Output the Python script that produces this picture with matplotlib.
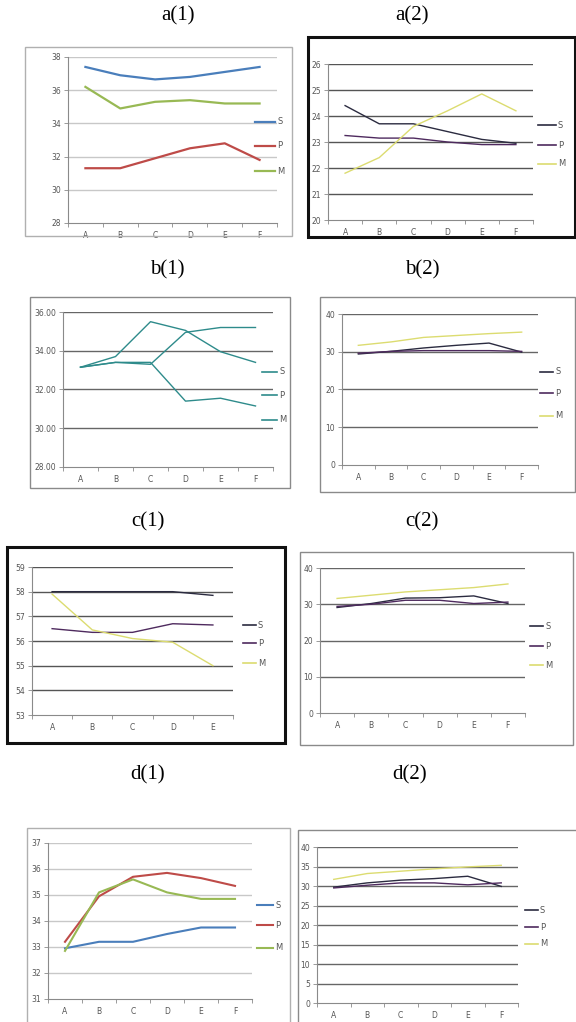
import matplotlib
matplotlib.use("Agg")
import matplotlib.pyplot as plt
from matplotlib.lines import Line2D
from matplotlib.patches import Rectangle
from matplotlib.ticker import FixedLocator, FormatStrFormatter

W, H = 576, 1022

# categories
cats6 = ['A', 'B', 'C', 'D', 'E', 'F']
cats5 = ['A', 'B', 'C', 'D', 'E']
series_names = ['S', 'P', 'M']

# values
a1_S = [37.4, 36.9, 36.65, 36.8, 37.1, 37.4]
a1_P = [31.3, 31.3, 31.9, 32.5, 32.8, 31.8]
a1_M = [36.2, 34.9, 35.3, 35.4, 35.2, 35.2]

a2_S = [24.4, 23.7, 23.7, 23.4, 23.1, 22.95]
a2_P = [23.25, 23.15, 23.15, 23.0, 22.9, 22.9]
a2_M = [21.8, 22.4, 23.6, 24.2, 24.85, 24.2]

b1_S = [33.15, 33.7, 35.5, 35.05, 33.95, 33.4]
b1_P = [33.15, 33.4, 33.3, 34.95, 35.2, 35.2]
b1_M = [33.15, 33.4, 33.4, 31.4, 31.55, 31.15]

b2_S = [29.4, 30.1, 31.0, 31.7, 32.3, 29.9]
b2_P = [29.6, 30.1, 30.3, 30.3, 30.3, 30.1]
b2_M = [31.7, 32.6, 33.8, 34.3, 34.8, 35.2]

c1_S = [58, 58, 58, 58, 57.85]
c1_P = [56.5, 56.35, 56.35, 56.7, 56.65]
c1_M = [57.9, 56.45, 56.1, 55.95, 55.0]

c2_S = [29.1, 30.2, 31.7, 31.8, 32.3, 30.2]
c2_P = [29.4, 30.0, 31.1, 31.1, 30.2, 30.6]
c2_M = [31.6, 32.5, 33.4, 34.0, 34.6, 35.6]

d1_S = [32.95, 33.2, 33.2, 33.5, 33.75, 33.75]
d1_P = [33.2, 34.95, 35.7, 35.85, 35.65, 35.35]
d1_M = [32.85, 35.1, 35.6, 35.1, 34.85, 34.85]

d2_S = [29.7, 30.8, 31.5, 31.9, 32.5, 29.9]
d2_P = [29.5, 30.2, 30.8, 30.8, 30.3, 30.8]
d2_M = [31.7, 33.2, 33.8, 34.4, 34.9, 35.3]

a1_ticks = [28, 30, 32, 34, 36, 38]
a2_ticks = [20, 21, 22, 23, 24, 25, 26]
b1_ticks = [28, 30, 32, 34, 36]
b2_ticks = [0, 10, 20, 30, 40]
c1_ticks = [53, 54, 55, 56, 57, 58, 59]
c2_ticks = [0, 10, 20, 30, 40]
d1_ticks = [31, 32, 33, 34, 35, 36, 37]
d2_ticks = [0, 5, 10, 15, 20, 25, 30, 35, 40]

xl07 = ['#4a7ebb', '#be4b48', '#98b954']
xl03 = ['#2b2b40', '#4e2a5e', '#dcdc70']
teal = ['#2e8b8b', '#2e8b8b', '#2e8b8b']

fig = plt.figure(figsize=(W / 100, H / 100), dpi=100)
fig.patch.set_facecolor('white')


def fx(x):
    return x / W


def fy(y):
    return 1 - y / H


def frame(l, t, r, b, color='#9a9a9a', lw=1.0):
    fig.add_artist(Rectangle((fx(l), fy(b)), fx(r - l), (b - t) / H,
                             transform=fig.transFigure, fill=False,
                             edgecolor=color, linewidth=lw))


def panel(box, cats, data, colors, ticks, grid_color, fmt='%d', lw=1.0,
          legend=None, title=None):
    l, t, r, b = box
    ax = fig.add_axes([fx(l), fy(b), fx(r - l), (b - t) / H])
    ax.set_facecolor('none')
    x = range(len(cats))
    for vals, c in zip(data, colors):
        ax.plot(x, vals, color=c, linewidth=lw, solid_joinstyle='round')
    ax.set_xlim(-0.5, len(cats) - 0.5)
    ax.set_ylim(ticks[0], ticks[-1])
    ax.yaxis.set_major_locator(FixedLocator(ticks))
    ax.yaxis.set_major_formatter(FormatStrFormatter(fmt))
    ax.set_xticks(list(x))
    ax.set_xticklabels(cats)
    ax.set_xticks([i + 0.5 for i in range(-1, len(cats))], minor=True)
    for tv in ticks[1:]:
        ax.axhline(tv, color=grid_color, linewidth=1.0, zorder=0)
    for s in ['top', 'right']:
        ax.spines[s].set_visible(False)
    for s in ['left', 'bottom']:
        ax.spines[s].set_color('#8a8a8a')
        ax.spines[s].set_linewidth(0.8)
    ax.tick_params(axis='y', length=3, width=0.6, color='#8a8a8a',
                   labelsize=5.5, labelcolor='#555555', pad=2)
    ax.tick_params(axis='x', which='major', length=0, labelsize=5.5,
                   labelcolor='#555555', pad=6)
    ax.tick_params(axis='x', which='minor', length=3, width=0.6,
                   color='#8a8a8a')
    if legend is not None:
        lx0, lx1, ys = legend
        for name, c, yy in zip(series_names, colors, ys):
            fig.add_artist(Line2D([fx(lx0), fx(lx1)], [fy(yy), fy(yy)],
                                  transform=fig.transFigure, color=c,
                                  linewidth=max(lw, 1.2)))
            fig.text(fx(lx1 + 2), fy(yy), name, fontsize=6,
                     color='#555555', va='center', ha='left')
    if title is not None:
        tx, ty, txt = title
        fig.text(fx(tx), fy(ty), txt, fontsize=15, ha='center',
                 va='center', family='Liberation Serif')
    return ax


# a(1)
frame(25, 47, 292, 236, color='#b0b0b0')
panel((68, 57, 277, 223), cats6, [a1_S, a1_P, a1_M], xl07, a1_ticks,
      '#c8c8c8', lw=1.6, legend=(255, 275, [122, 146, 171]),
      title=(178, 16, 'a(1)'))

# a(2)
frame(308, 37, 575, 237, color='#111111', lw=2.2)
panel((328, 64, 533, 220), cats6, [a2_S, a2_P, a2_M], xl03, a2_ticks,
      '#555555', lw=1.0, legend=(538, 556, [125, 145, 164]),
      title=(412, 16, 'a(2)'))

# b(1)
frame(30, 297, 290, 488, color='#8a8a8a')
panel((63, 312, 273, 467), cats6, [b1_S, b1_P, b1_M], teal, b1_ticks,
      '#666666', fmt='%.2f', lw=1.0, legend=(262, 277, [372, 395, 420]),
      title=(167, 270, 'b(1)'))

# b(2)
frame(320, 297, 575, 492, color='#8a8a8a')
panel((342, 314, 538, 465), cats6, [b2_S, b2_P, b2_M], xl03, b2_ticks,
      '#666666', lw=1.0, legend=(540, 553, [372, 393, 416]),
      title=(422, 270, 'b(2)'))

# c(1)
frame(7, 547, 285, 743, color='#111111', lw=2.2)
panel((32, 567, 233, 715), cats5, [c1_S, c1_P, c1_M], xl03, c1_ticks,
      '#555555', lw=1.0, legend=(243, 256, [625, 643, 663]),
      title=(148, 522, 'c(1)'))

# c(2)
frame(300, 552, 573, 745, color='#8a8a8a')
panel((320, 568, 525, 713), cats6, [c2_S, c2_P, c2_M], xl03, c2_ticks,
      '#666666', lw=1.0, legend=(530, 543, [626, 646, 665]),
      title=(422, 522, 'c(2)'))

# d(1)
frame(27, 828, 290, 1030, color='#b0b0b0')
panel((48, 843, 252, 999), cats6, [d1_S, d1_P, d1_M], xl07, d1_ticks,
      '#c8c8c8', lw=1.5, legend=(257, 273, [905, 925, 948]),
      title=(148, 775, 'd(1)'))

# d(2)
frame(298, 830, 590, 1030, color='#8a8a8a')
panel((317, 847, 518, 1003), cats6, [d2_S, d2_P, d2_M], xl03, d2_ticks,
      '#666666', lw=1.0, legend=(525, 538, [910, 927, 944]),
      title=(410, 775, 'd(2)'))

fig.savefig('out.png', dpi=100)
